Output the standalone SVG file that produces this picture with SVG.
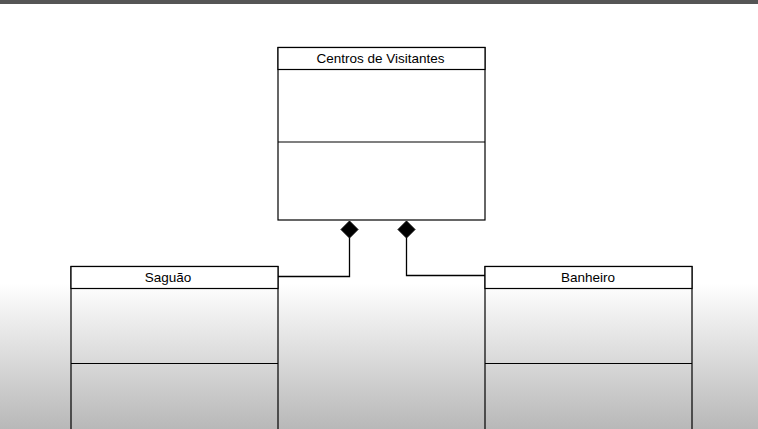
<svg xmlns="http://www.w3.org/2000/svg" width="758" height="429" viewBox="0 0 758 429">
<defs>
<linearGradient id="bg" x1="0" y1="0" x2="0" y2="1">
<stop offset="0" stop-color="#ffffff"/>
<stop offset="0.66" stop-color="#ffffff"/>
<stop offset="1" stop-color="#b8b8b8"/>
</linearGradient>
<style>
.box{fill:none;stroke:#000;stroke-width:1.2}
.hdr{fill:#fff;stroke:#000;stroke-width:1.2}
.lbl{font-family:"Liberation Sans",Arial,sans-serif;font-size:13.5px;fill:#000;text-anchor:middle}
.conn{fill:none;stroke:#000;stroke-width:1.3}
.dia{fill:#000;stroke:#000}
</style>
</defs>
<rect x="0" y="0" width="758" height="429" fill="url(#bg)"/>
<rect x="0" y="0" width="758" height="4" fill="#555"/>
<g id="centros">
<rect class="box" x="278" y="47.5" width="207" height="172.5"/>
<rect class="hdr" x="278" y="47.5" width="207" height="22"/>
<line class="box" x1="278" y1="142" x2="485" y2="142"/>
<text class="lbl" x="380.5" y="63">Centros de Visitantes</text>
</g>
<g id="saguao">
<rect class="box" x="71" y="266.5" width="207" height="170"/>
<rect class="hdr" x="71" y="266.5" width="207" height="22" fill-opacity="0.9"/>
<line class="box" x1="71" y1="363.5" x2="278" y2="363.5"/>
<text class="lbl" x="168" y="282">Saguão</text>
</g>
<g id="banheiro">
<rect class="box" x="485" y="266.5" width="207" height="170"/>
<rect class="hdr" x="485" y="266.5" width="207" height="22" fill-opacity="0.9"/>
<line class="box" x1="485" y1="363.5" x2="692" y2="363.5"/>
<text class="lbl" x="588" y="282">Banheiro</text>
</g>
<g id="connectors">
<polyline class="conn" points="349.5,238 349.5,276.5 278,276.5"/>
<polygon class="dia" points="349.5,221 358,229.5 349.5,238 341,229.5"/>
<polyline class="conn" points="406.5,238 406.5,275.5 485,275.5"/>
<polygon class="dia" points="406.5,221 415,229.5 406.5,238 398,229.5"/>
</g>
</svg>
